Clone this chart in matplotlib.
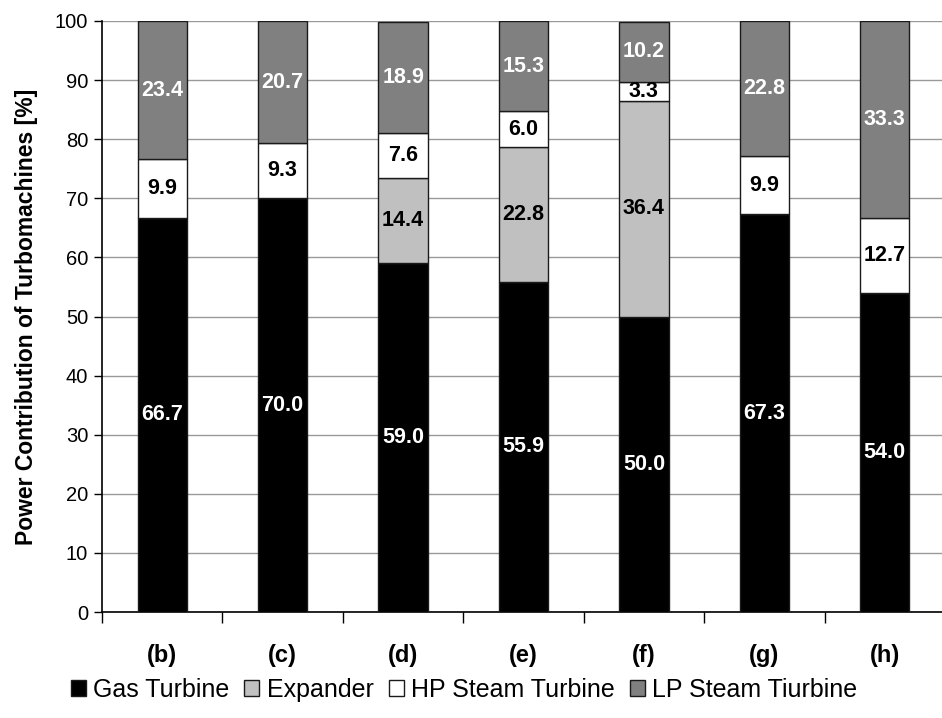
import matplotlib.pyplot as plt
import numpy as np

plt.rcParams['font.family'] = ['Liberation Sans', 'DejaVu Sans']

# data
casos = ['(b)', '(c)', '(d)', '(e)', '(f)', '(g)', '(h)']
gas_turbine = [66.7, 70.0, 59.0, 55.9, 50.0, 67.3, 54.0]
expander = [0.0, 0.0, 14.4, 22.8, 36.4, 0.0, 0.0]
hp_steam = [9.9, 9.3, 7.6, 6.0, 3.3, 9.9, 12.7]
lp_steam = [23.4, 20.7, 18.9, 15.3, 10.2, 22.8, 33.3]

series = [
    ('Gas Turbine', gas_turbine, '#000000', 'white'),
    ('Expander', expander, '#c0c0c0', 'black'),
    ('HP Steam Turbine', hp_steam, '#ffffff', 'black'),
    ('LP Steam Tiurbine', lp_steam, '#808080', 'white'),
]

fig = plt.figure(figsize=(9.42, 7.18), dpi=100)
ax = fig.add_axes([102 / 942, 1 - 612 / 718, 843 / 942, 591 / 718])

x = np.arange(len(casos))
base = np.zeros(len(casos))
for nome, vals, cor, cor_txt in series:
    vals = np.array(vals)
    bars = ax.bar(x, vals, 0.41, bottom=base, color=cor, edgecolor='#1a1a1a',
                  linewidth=1.0, label=nome, zorder=3)
    for b, v, y0 in zip(bars, vals, base):
        if v > 0:
            ax.text(b.get_x() + b.get_width() / 2, y0 + v / 2, f'{v:.1f}',
                    ha='center', va='center', color=cor_txt, fontsize=15.5,
                    fontweight='bold', zorder=4)
    base = base + vals

ax.set_xlim(-0.5, len(casos) - 0.5)
ax.set_ylim(0, 100)
ax.set_yticks(range(0, 101, 10))
ax.tick_params(axis='y', labelsize=14.5, length=6, width=1, direction='out', pad=4)
ax.set_xticks(x)
ax.set_xticklabels(casos, fontsize=17, fontweight='bold')
ax.set_xticks(np.arange(-0.5, len(casos), 1), minor=True)
ax.tick_params(axis='x', which='major', length=0, pad=23)
ax.tick_params(axis='x', which='minor', length=8, width=1, direction='out')
ax.grid(axis='y', color='#999999', linewidth=1, zorder=0)
ax.set_axisbelow(True)
for s in ['top', 'right']:
    ax.spines[s].set_visible(False)
ax.spines['left'].set_linewidth(1.2)
ax.spines['bottom'].set_linewidth(1.2)
ax.set_ylabel('Power Contribution of Turbomachines [%]', fontsize=16.5,
              fontweight='bold', labelpad=12)

ax.legend(loc='center', bbox_to_anchor=(464 / 942, 1 - 690 / 718),
          bbox_transform=fig.transFigure, ncol=4, frameon=False, fontsize=18,
          handlelength=0.6, handleheight=0.6, handletextpad=0.3,
          columnspacing=0.6, borderpad=0)

plt.savefig('out.png', dpi=100)
